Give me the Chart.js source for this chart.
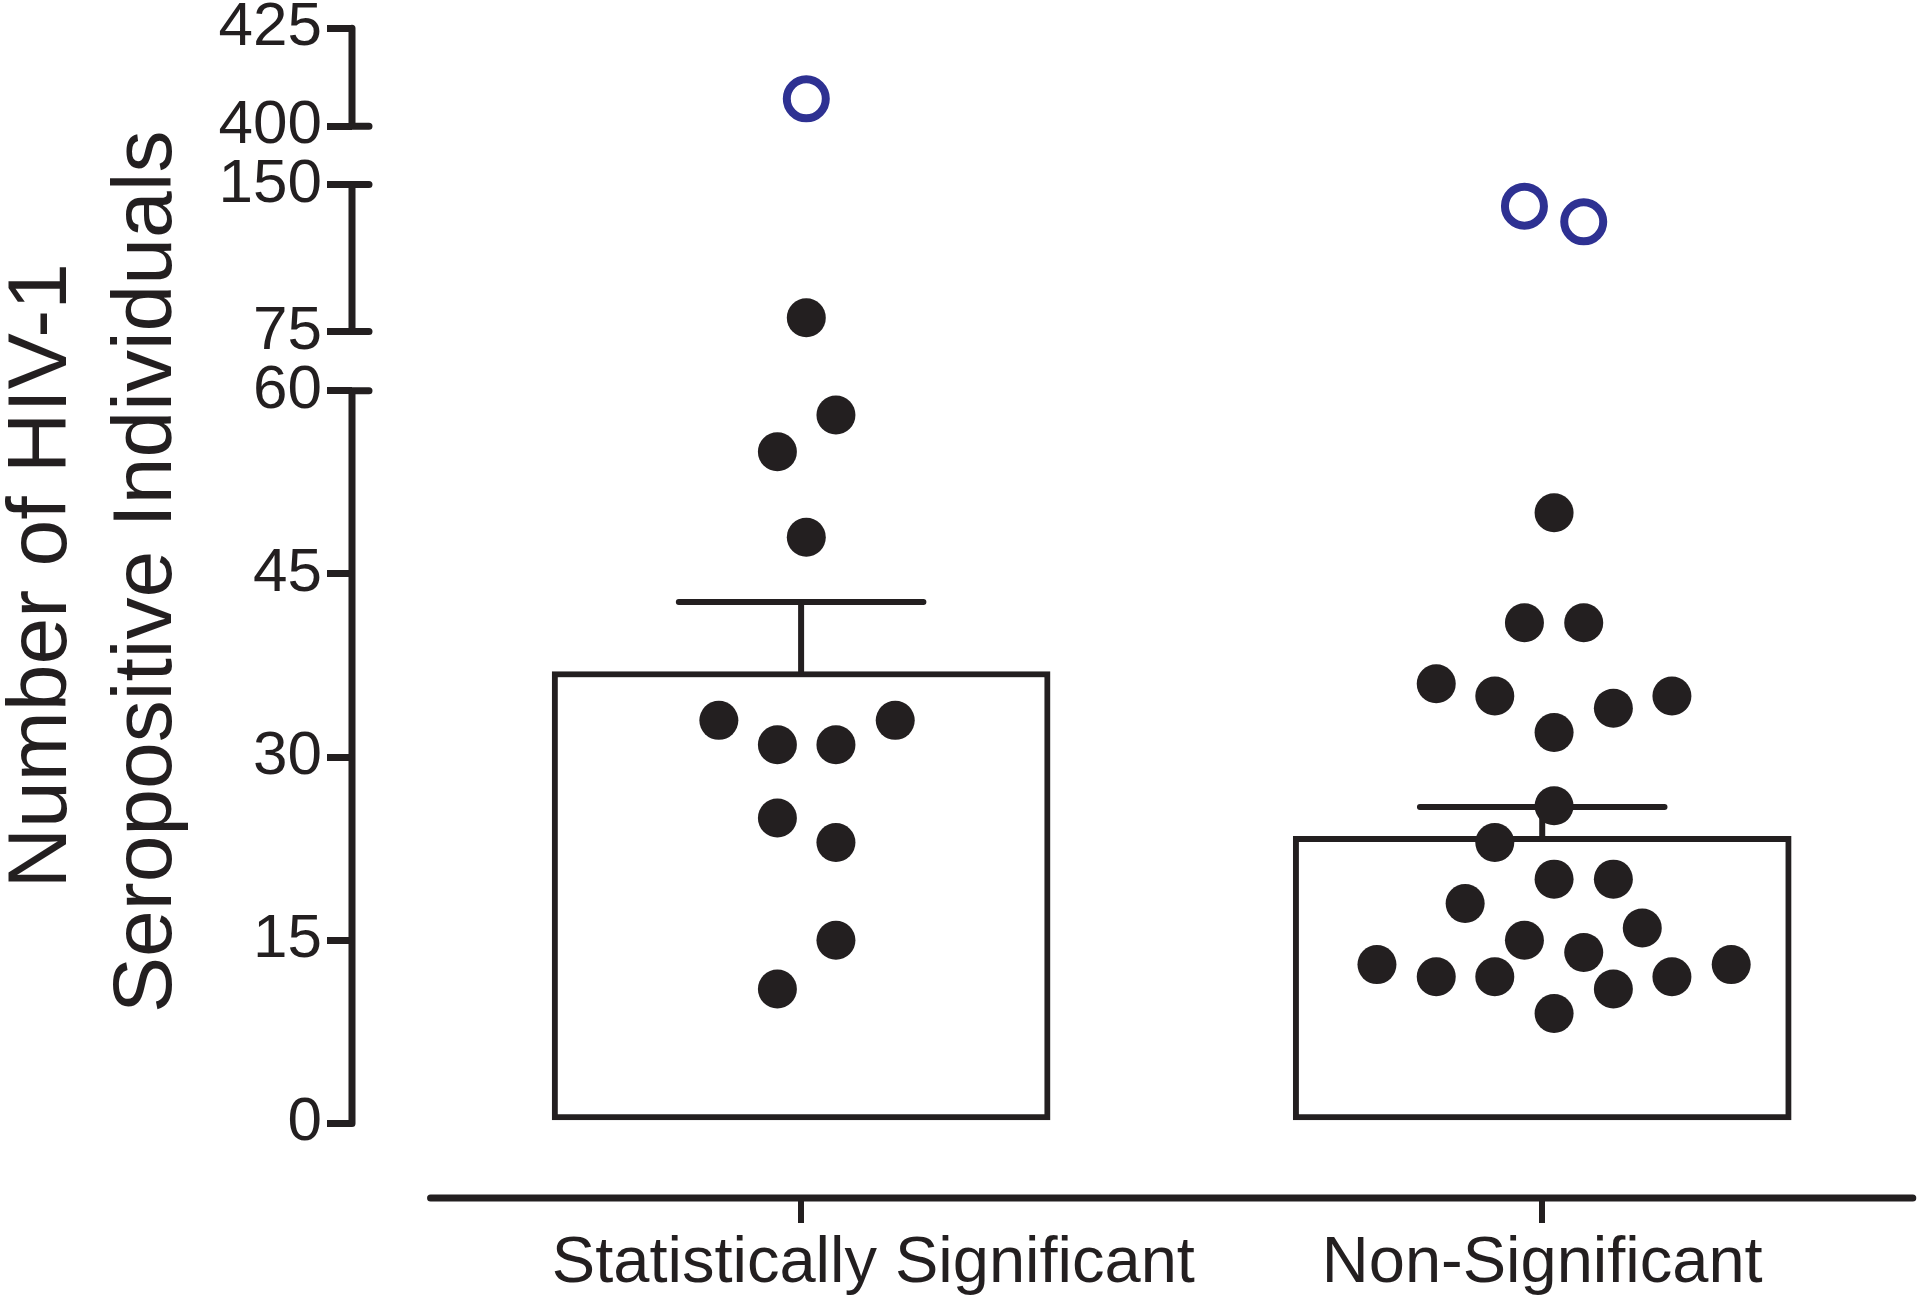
<!DOCTYPE html>
<html>
<head>
<meta charset="utf-8">
<title>HIV-1 seropositive individuals</title>
<script src="https://cdn.jsdelivr.net/npm/chart.js@4.4.1/dist/chart.umd.min.js"></script>
<style>
  html, body { margin: 0; padding: 0; background: #fff; }
  #wrap { width: 1920px; height: 1298px; position: relative; }
</style>
</head>
<body>
<div id="wrap"><canvas id="chart"></canvas></div>
<script>
'use strict';

const categories = ['Statistically Significant', 'Non-Significant'];
const barMeans = [37.0, 23.5];
const errorTops = [42.7, 25.9];

// dots: x = category index + horizontal spread, y = count
const sigDotX = [0.007, 0.047, -0.032, 0.007, -0.111, 0.127, -0.032, 0.047, -0.032, 0.047, 0.047, -0.032];
const sigDotY = [82, 58, 55, 48, 33, 33, 31, 31, 25, 23, 15, 11];
const nonSigDotX = [1.016, 0.976, 1.056, 0.857, 0.936, 1.175, 1.096, 1.016, 1.016, 0.936, 1.016, 1.096,
  0.896, 1.135, 0.976, 1.056, 0.777, 1.255, 0.857, 0.936, 1.175, 1.096, 1.016];
const nonSigDotY = [50, 41, 41, 36, 35, 35, 34, 32, 26, 23, 20, 20, 18, 16, 15, 14, 13, 13, 12, 12, 12, 11, 9];

// open blue circles
const outlierX = [0.007, 0.976, 1.056];
const outlierY = [407, 139, 131];

// broken y axis: three pieces
const lowTicks = [0, 15, 30, 45, 60];
const midTicks = [75, 150];
const topTicks = [400, 425];

const titleLines = ['Number of HIV-1', 'Seropositive Individuals'];

const ink = '#231f20';
const blue = '#2e3192';
const fontFamily = '"Liberation Sans", Arial, Helvetica, sans-serif';

const segments = [
  { id: 'yLow', ticks: lowTicks, min: -6.11, max: 62.42, weight: 835.5 },
  { id: 'yMid', ticks: midTicks, min: 59.92, max: 164.98, weight: 205.5 },
  { id: 'yTop', ticks: topTicks, min: 392.58, max: 425.84, weight: 130 }
];

function segmentFor(v) {
  return segments.find(s => v >= s.ticks[0] && v <= s.ticks[s.ticks.length - 1]);
}

function pointsIn(seg, xs, ys) {
  const pts = [];
  for (let i = 0; i < ys.length; i++) {
    if (segmentFor(ys[i]) === seg) pts.push({ x: xs[i], y: ys[i] });
  }
  return pts;
}

const datasets = [];

// bars
datasets.push({
  type: 'bar',
  data: categories.map((c, i) => ({ x: i, y: barMeans[i] })),
  yAxisID: 'yLow',
  backgroundColor: '#ffffff',
  borderColor: ink,
  borderWidth: 6,
  borderSkipped: false,
  barThickness: 498,
  order: 3
});

// error bars (stem + cap)
categories.forEach((c, i) => {
  datasets.push({
    type: 'line',
    data: [
      { x: i, y: barMeans[i] },
      { x: i, y: errorTops[i] },
      { x: i - 0.165, y: errorTops[i] },
      { x: i + 0.165, y: errorTops[i] }
    ],
    yAxisID: 'yLow',
    borderColor: ink,
    borderWidth: 6,
    borderCapStyle: 'round',
    borderJoinStyle: 'round',
    pointRadius: 0,
    fill: false,
    tension: 0,
    order: 2
  });
});

// dots, one set per axis piece
segments.forEach(seg => {
  const black = pointsIn(seg, sigDotX, sigDotY).concat(pointsIn(seg, nonSigDotX, nonSigDotY));
  if (black.length) {
    datasets.push({
      type: 'scatter',
      data: black,
      yAxisID: seg.id,
      pointBackgroundColor: ink,
      pointBorderColor: ink,
      pointBorderWidth: 0,
      pointRadius: 19.5,
      order: 0
    });
  }
  const open = pointsIn(seg, outlierX, outlierY);
  if (open.length) {
    datasets.push({
      type: 'scatter',
      data: open,
      yAxisID: seg.id,
      pointBackgroundColor: '#ffffff',
      pointBorderColor: blue,
      pointBorderWidth: 8,
      pointRadius: 19.5,
      order: 0
    });
  }
});

const scales = {
  x: {
    type: 'linear',
    min: -0.606,
    max: 1.503,
    offset: false,
    border: { display: false },
    grid: { offset: false, drawOnChartArea: false, drawTicks: true, tickLength: 25, lineWidth: 6, color: ink },
    afterBuildTicks: s => { s.ticks = categories.map((c, i) => ({ value: i })); },
    ticks: {
      autoSkip: false,
      maxRotation: 0,
      minRotation: 0,
      padding: 2,
      color: ink,
      font: { family: fontFamily, size: 65 },
      // first label sits a bit right of its tick in the original
      callback: (v, i) => (i === 0 ? ' '.repeat(8) : '') + categories[Math.round(v)]
    },
    afterFit: s => { s.height = 100; s.paddingLeft = 0; s.paddingRight = 0; }
  }
};

segments.forEach(seg => {
  scales[seg.id] = {
    type: 'linear',
    position: 'left',
    stack: 'y',
    stackWeight: seg.weight,
    min: seg.min,
    max: seg.max,
    border: { display: false },
    grid: { drawOnChartArea: false, drawTicks: true, tickLength: 25, lineWidth: 7, color: ink },
    afterBuildTicks: s => { s.ticks = seg.ticks.map(v => ({ value: v })); },
    ticks: {
      autoSkip: false,
      padding: 5,
      color: ink,
      font: { family: fontFamily, size: 62 }
    },
    afterFit: s => { s.width = 174; s.paddingTop = 0; s.paddingBottom = 0; }
  };
});

// axis lines with breaks, and the rotated y title
const axisDecor = {
  id: 'axisDecor',
  afterDraw(chart) {
    const ctx = chart.ctx;
    ctx.save();
    ctx.strokeStyle = ink;
    ctx.lineCap = 'round';
    ctx.lineWidth = 7;

    segments.forEach((seg, k) => {
      const s = chart.scales[seg.id];
      const x = s.right;
      const y0 = s.getPixelForValue(seg.ticks[0]);
      const y1 = s.getPixelForValue(seg.ticks[seg.ticks.length - 1]);
      ctx.beginPath();
      ctx.moveTo(x, y0);
      ctx.lineTo(x, y1);
      // little caps where the axis is broken
      if (k > 0) { ctx.moveTo(x, y0); ctx.lineTo(x + 17, y0); }
      if (k < segments.length - 1) { ctx.moveTo(x, y1); ctx.lineTo(x + 17, y1); }
      ctx.stroke();
    });

    const xs = chart.scales.x;
    ctx.beginPath();
    ctx.moveTo(xs.getPixelForValue(-0.5), xs.top);
    ctx.lineTo(xs.getPixelForValue(1.5), xs.top);
    ctx.stroke();

    const low = chart.scales.yLow;
    const top = chart.scales.yTop;
    const cy = (low.getPixelForValue(lowTicks[0]) + top.getPixelForValue(topTicks[topTicks.length - 1])) / 2;
    ctx.translate(0, cy);
    ctx.rotate(-Math.PI / 2);
    ctx.fillStyle = ink;
    ctx.font = '84px ' + fontFamily;
    ctx.textAlign = 'center';
    ctx.textBaseline = 'alphabetic';
    ctx.fillText(titleLines[0], 0, 66);
    ctx.fillText(titleLines[1], 4, 171);
    ctx.restore();
  }
};

new Chart('chart', {
  type: 'bar',
  data: { datasets: datasets },
  options: {
    responsive: true,
    maintainAspectRatio: false,
    animation: false,
    layout: { autoPadding: false, padding: { top: 25, left: 178, right: 5, bottom: 0 } },
    plugins: {
      legend: { display: false },
      tooltip: { enabled: false }
    },
    scales: scales
  },
  plugins: [axisDecor]
});
</script>
</body>
</html>
